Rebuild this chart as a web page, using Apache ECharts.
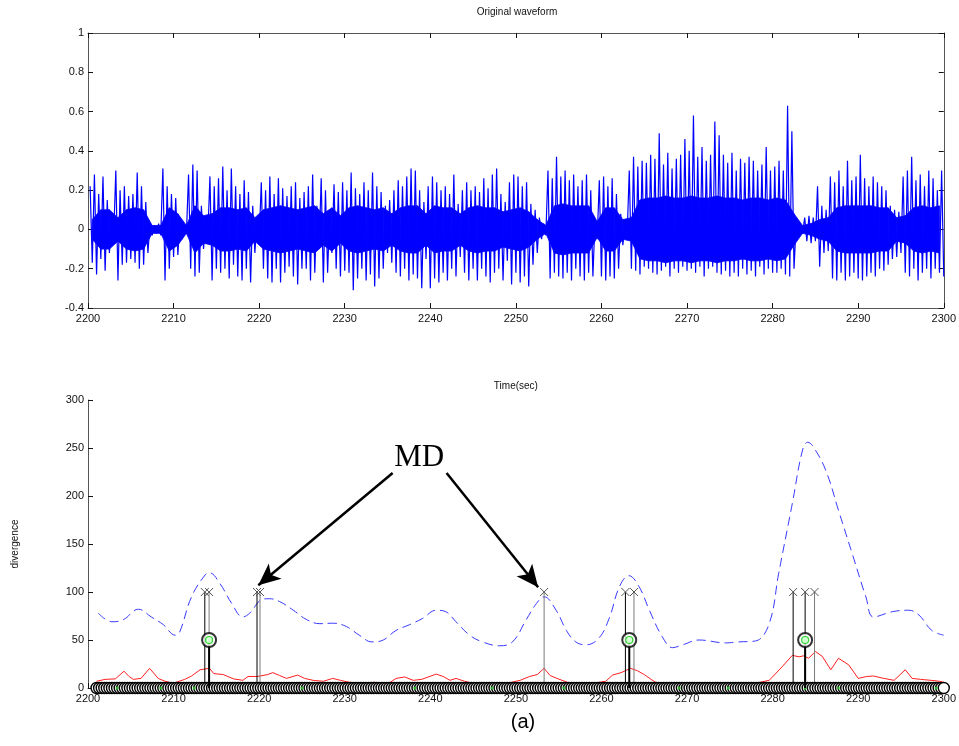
<!DOCTYPE html>
<html><head><meta charset="utf-8">
<script src="https://cdn.jsdelivr.net/npm/echarts@6/dist/echarts.min.js"></script>
<style>html,body{margin:0;padding:0;background:#fff}#c{width:959px;height:746px}</style>
</head><body><div id="c"></div>
<script>
// ---- Waveform envelope: max / min per half-second window, windows ending 2200.5 ... 2300 ----
const waveStart = 2200.5, waveStep = 0.5;
const wavePos = [
0.22,0.28,0.18,0.27,0.15,0.04,0.30,0.20,0.22,0.17,
0.18,0.29,0.22,0.14,0.03,0.02,0.03,0.31,0.22,0.18,
0.16,0.05,0.02,0.28,0.33,0.30,0.12,0.03,0.27,0.22,
0.26,0.32,0.20,0.31,0.22,0.18,0.25,0.19,0.12,0.06,
0.24,0.20,0.27,0.18,0.26,0.21,0.17,0.22,0.24,0.16,
0.19,0.22,0.28,0.12,0.26,0.20,0.10,0.23,0.19,0.24,
0.20,0.29,0.21,0.18,0.24,0.20,0.29,0.22,0.19,0.12,
0.15,0.20,0.25,0.22,0.27,0.31,0.30,0.20,0.14,0.22,
0.27,0.24,0.20,0.22,0.18,0.28,0.13,0.20,0.24,0.20,
0.22,0.19,0.26,0.21,0.28,0.31,0.18,0.14,0.24,0.28,
0.27,0.22,0.24,0.13,0.10,0.06,0.03,0.30,0.26,0.37,
0.27,0.30,0.25,0.28,0.22,0.25,0.28,0.20,0.05,0.25,
0.27,0.22,0.26,0.18,0.08,0.03,0.30,0.37,0.32,0.35,
0.34,0.38,0.36,0.49,0.33,0.39,0.31,0.36,0.38,0.46,
0.40,0.58,0.37,0.42,0.35,0.38,0.55,0.48,0.38,0.34,
0.39,0.30,0.36,0.34,0.37,0.35,0.30,0.33,0.42,0.30,
0.32,0.35,0.30,0.63,0.50,0.02,0.02,0.06,0.07,0.06,
0.22,0.12,0.10,0.27,0.24,0.30,0.22,0.35,0.25,0.27,
0.38,0.26,0.22,0.27,0.24,0.22,0.20,0.12,0.10,0.09,
0.27,0.30,0.37,0.25,0.28,0.22,0.30,0.26,0.20,0.30];
const waveNeg = [
-0.17,-0.23,-0.15,-0.21,-0.12,-0.04,-0.26,-0.18,-0.17,-0.15,
-0.17,-0.20,-0.18,-0.12,-0.03,-0.02,-0.03,-0.26,-0.20,-0.14,
-0.13,-0.05,-0.02,-0.20,-0.24,-0.22,-0.10,-0.03,-0.26,-0.20,
-0.22,-0.20,-0.25,-0.18,-0.24,-0.26,-0.20,-0.27,-0.12,-0.05,
-0.20,-0.25,-0.27,-0.20,-0.27,-0.22,-0.19,-0.24,-0.28,-0.20,
-0.20,-0.26,-0.22,-0.10,-0.27,-0.22,-0.12,-0.20,-0.24,-0.21,
-0.22,-0.31,-0.25,-0.20,-0.26,-0.23,-0.29,-0.25,-0.20,-0.12,
-0.17,-0.22,-0.24,-0.20,-0.26,-0.23,-0.25,-0.30,-0.15,-0.30,
-0.25,-0.27,-0.22,-0.26,-0.20,-0.24,-0.14,-0.22,-0.26,-0.20,
-0.26,-0.20,-0.24,-0.27,-0.22,-0.20,-0.26,-0.16,-0.28,-0.22,
-0.27,-0.24,-0.29,-0.18,-0.12,-0.05,-0.03,-0.25,-0.22,-0.24,
-0.25,-0.22,-0.26,-0.20,-0.24,-0.26,-0.22,-0.24,-0.05,-0.24,
-0.26,-0.24,-0.25,-0.20,-0.08,-0.03,-0.20,-0.21,-0.23,-0.19,
-0.20,-0.22,-0.23,-0.21,-0.19,-0.24,-0.20,-0.22,-0.19,-0.21,
-0.20,-0.22,-0.19,-0.24,-0.20,-0.19,-0.22,-0.23,-0.21,-0.24,
-0.22,-0.24,-0.20,-0.23,-0.21,-0.24,-0.19,-0.23,-0.20,-0.22,
-0.22,-0.20,-0.23,-0.24,-0.20,-0.02,-0.02,-0.06,-0.07,-0.06,
-0.19,-0.12,-0.11,-0.25,-0.26,-0.22,-0.26,-0.24,-0.22,-0.25,
-0.26,-0.24,-0.22,-0.24,-0.20,-0.21,-0.18,-0.15,-0.14,-0.12,
-0.22,-0.24,-0.20,-0.26,-0.22,-0.20,-0.25,-0.20,-0.22,-0.24];
// dense solid core amplitude of the waveform, one value per second (centres 2200.5 ... 2299.5)
const coreStart = 2200.5, coreStep = 1;
const coreAmp = [
0.05,0.10,0.10,0.06,0.10,0.11,0.10,0.02,0.02,0.11,
0.08,0.02,0.12,0.07,0.08,0.11,0.11,0.10,0.11,0.06,
0.10,0.11,0.12,0.11,0.10,0.11,0.12,0.08,0.11,0.07,
0.11,0.12,0.11,0.10,0.11,0.08,0.11,0.12,0.12,0.08,
0.12,0.11,0.11,0.08,0.11,0.12,0.11,0.11,0.09,0.10,
0.11,0.09,0.05,0.02,0.12,0.13,0.12,0.12,0.12,0.04,
0.11,0.11,0.05,0.06,0.15,0.16,0.16,0.17,0.16,0.16,
0.17,0.16,0.16,0.17,0.16,0.16,0.15,0.16,0.16,0.15,
0.16,0.15,0.08,0.02,0.03,0.05,0.06,0.11,0.12,0.12,
0.12,0.12,0.11,0.11,0.06,0.07,0.11,0.12,0.11,0.12];

// ---- Divergence curves: [time, value] ----
const blueDiv = [[2201.2,78],[2202.8,69],[2204.1,71],[2205.9,82],[2207.4,74],[2208.8,66],[2210.2,55],[2210.7,58],[2212.1,95],[2213.7,118],[2214.2,120],[2215.4,109],[2216.8,88],[2218.1,74],[2218.9,78],[2220.3,92],[2221.2,93],[2222.4,90],[2224,81],[2225.5,71.5],[2227.1,67],[2228.6,67.5],[2230.2,64],[2231.7,55],[2233.2,48],[2234.5,50],[2236,60],[2237.6,66],[2239.1,72.5],[2240.7,81],[2241.8,79.5],[2243,69],[2244.6,55],[2246.1,48],[2248.1,44],[2249.6,48],[2251.2,71],[2252.4,88],[2253.3,95],[2254.7,81],[2255.9,60],[2257,48],[2258.2,45],[2259.7,52],[2260.9,72.5],[2262.1,105.5],[2263.2,117],[2264.4,105.5],[2265.6,81],[2267.1,53.5],[2268.3,42],[2269.5,45],[2271.4,50],[2274.5,47],[2276,48],[2278,49],[2279.6,67],[2280.7,119],[2282.3,192],[2283.5,248],[2284.1,256],[2284.7,252],[2286.2,227],[2287.7,185],[2289.3,140],[2290.9,95],[2291.8,74],[2294,79.5],[2295.9,81],[2297.1,76],[2298.6,60],[2300,55]];
const redDiv = [[2201,7],[2202,9],[2203.2,9.5],[2204.2,17.5],[2204.8,12],[2205.3,9],[2206.2,10],[2207.2,20.5],[2208.2,10],[2209,7],[2210,5],[2211.3,9],[2212.1,12.5],[2213.1,19],[2214.2,20.5],[2214.7,15],[2215.8,14],[2217,9.5],[2218.1,8],[2218.7,12],[2219.8,12],[2221,14],[2221.6,16],[2222.4,13],[2223.2,10],[2224.5,13.5],[2225.3,10],[2226.3,8],[2227.5,7],[2228.6,10],[2229.5,8],[2230.5,6],[2232,5],[2233.5,6],[2235,4],[2236,10],[2237,11.5],[2238,8],[2239,9],[2240.7,14.5],[2241.5,12],[2242.3,8],[2243,10],[2244,7],[2245,5],[2247,4],[2249,5],[2250.5,8],[2251.6,12],[2252.5,14],[2253.3,20.5],[2254,13],[2254.8,10],[2256,6],[2257.5,4],[2259,5],[2260.5,7],[2261.3,13.5],[2262.3,16],[2263.4,20.5],[2264.2,18],[2265,14],[2265.8,9],[2266.5,5],[2268,4],[2270,5],[2272,4],[2274,5],[2276,4],[2278,5],[2279.6,8],[2281.1,22],[2282.3,34],[2283.1,32.5],[2283.6,33.5],[2284.2,31],[2285,38],[2285.8,33],[2286.8,19],[2287.7,31],[2288.9,24],[2290,10],[2291,12],[2291.8,12.5],[2293,10],[2294.2,8],[2295.5,19],[2296.3,10],[2297.3,9],[2298.5,8],[2299.5,7],[2300,6]];

// ---- Detection markers ----
const stemTimes  = [2213.65, 2214.15, 2219.75, 2220.1, 2253.3, 2262.8, 2263.8, 2282.4, 2283.8, 2284.9];
const stemValue  = 100;
const stemDark   = [1, 0, 1, 0, 0, 1, 0, 1, 1, 0];
const mdTimes    = [2214.15, 2263.25, 2283.8];
const mdValue    = 50;
const frameTimes = [
2201,2201.3,2201.6,2201.9,2202.2,2202.5,2202.8,2203.1,2203.4,2203.7,
2204,2204.3,2204.6,2204.9,2205.2,2205.5,2205.8,2206.1,2206.4,2206.7,
2207,2207.3,2207.6,2207.9,2208.2,2208.5,2208.8,2209.1,2209.4,2209.7,
2210,2210.3,2210.6,2210.9,2211.2,2211.5,2211.8,2212.1,2212.4,2212.7,
2213,2213.3,2213.6,2213.9,2214.2,2214.5,2214.8,2215.1,2215.4,2215.7,
2216,2216.3,2216.6,2216.9,2217.2,2217.5,2217.8,2218.1,2218.4,2218.7,
2219,2219.3,2219.6,2219.9,2220.2,2220.5,2220.8,2221.1,2221.4,2221.7,
2222,2222.3,2222.6,2222.9,2223.2,2223.5,2223.8,2224.1,2224.4,2224.7,
2225,2225.3,2225.6,2225.9,2226.2,2226.5,2226.8,2227.1,2227.4,2227.7,
2228,2228.3,2228.6,2228.9,2229.2,2229.5,2229.8,2230.1,2230.4,2230.7,
2231,2231.3,2231.6,2231.9,2232.2,2232.5,2232.8,2233.1,2233.4,2233.7,
2234,2234.3,2234.6,2234.9,2235.2,2235.5,2235.8,2236.1,2236.4,2236.7,
2237,2237.3,2237.6,2237.9,2238.2,2238.5,2238.8,2239.1,2239.4,2239.7,
2240,2240.3,2240.6,2240.9,2241.2,2241.5,2241.8,2242.1,2242.4,2242.7,
2243,2243.3,2243.6,2243.9,2244.2,2244.5,2244.8,2245.1,2245.4,2245.7,
2246,2246.3,2246.6,2246.9,2247.2,2247.5,2247.8,2248.1,2248.4,2248.7,
2249,2249.3,2249.6,2249.9,2250.2,2250.5,2250.8,2251.1,2251.4,2251.7,
2252,2252.3,2252.6,2252.9,2253.2,2253.5,2253.8,2254.1,2254.4,2254.7,
2255,2255.3,2255.6,2255.9,2256.2,2256.5,2256.8,2257.1,2257.4,2257.7,
2258,2258.3,2258.6,2258.9,2259.2,2259.5,2259.8,2260.1,2260.4,2260.7,
2261,2261.3,2261.6,2261.9,2262.2,2262.5,2262.8,2263.1,2263.4,2263.7,
2264,2264.3,2264.6,2264.9,2265.2,2265.5,2265.8,2266.1,2266.4,2266.7,
2267,2267.3,2267.6,2267.9,2268.2,2268.5,2268.8,2269.1,2269.4,2269.7,
2270,2270.3,2270.6,2270.9,2271.2,2271.5,2271.8,2272.1,2272.4,2272.7,
2273,2273.3,2273.6,2273.9,2274.2,2274.5,2274.8,2275.1,2275.4,2275.7,
2276,2276.3,2276.6,2276.9,2277.2,2277.5,2277.8,2278.1,2278.4,2278.7,
2279,2279.3,2279.6,2279.9,2280.2,2280.5,2280.8,2281.1,2281.4,2281.7,
2282,2282.3,2282.6,2282.9,2283.2,2283.5,2283.8,2284.1,2284.4,2284.7,
2285,2285.3,2285.6,2285.9,2286.2,2286.5,2286.8,2287.1,2287.4,2287.7,
2288,2288.3,2288.6,2288.9,2289.2,2289.5,2289.8,2290.1,2290.4,2290.7,
2291,2291.3,2291.6,2291.9,2292.2,2292.5,2292.8,2293.1,2293.4,2293.7,
2294,2294.3,2294.6,2294.9,2295.2,2295.5,2295.8,2296.1,2296.4,2296.7,
2297,2297.3,2297.6,2297.9,2298.2,2298.5,2298.8,2299.1,2299.4,2299.7,
2300];
const greenFrames = [2203.4, 2208.5, 2212.4, 2225, 2238.2, 2247.2, 2255.6, 2269.1, 2274.8, 2283.8, 2287.7, 2299.1];

// ---- Axes / text ----
const xTicks = {min: 2200, max: 2300, interval: 10};
const topY = {min: -0.4, max: 1, interval: 0.2};
const botY = {min: 0, max: 300, interval: 50};
const titleText = 'Original waveform';
const xName = 'Time(sec)';
const yName2 = 'divergence';
const annoText = 'MD';
const captionText = '(a)';
const arrowFrom = [[2235.6, 224], [2241.9, 224]];
const arrowTo = [[2219.9, 107], [2252.6, 105]];
const mdAt = [2238.7, 240];

// ---- build ----
const wavePts = [];
wavePos.forEach((p, i) => {
  const t = waveStart + waveStep * i;
  wavePts.push([t - 0.25, p]);
  wavePts.push([t, waveNeg[i]]);
});
const coreSegs = [];
for (let i = 0; i + 1 < coreAmp.length; i++) {
  coreSegs.push([coreStart + coreStep * i, coreAmp[i], coreStart + coreStep * (i + 1), coreAmp[i + 1]]);
}

const fontTick = 'Liberation Sans Narrow, Arial Narrow, Liberation Sans, Arial, sans-serif';
const axColor = '#555';
function xAx(grid, pos, labels) {
  return {type: 'value', gridIndex: grid, position: pos, ...xTicks,
    axisLine: {show: true, onZero: false, lineStyle: {color: axColor, width: 1}},
    axisTick: {show: true, inside: true, length: 5, lineStyle: {color: '#111'}},
    axisLabel: {show: labels, fontSize: 11, color: '#111', margin: 5, fontFamily: fontTick, formatter: v => String(v)},
    splitLine: {show: false}};
}
function yAx(grid, pos, cfg, labels, fmt) {
  return {type: 'value', gridIndex: grid, position: pos, ...cfg,
    axisLine: {show: true, onZero: false, lineStyle: {color: axColor, width: 1}},
    axisTick: {show: true, inside: true, length: 5, lineStyle: {color: '#111'}},
    axisLabel: {show: labels, fontSize: 11, color: '#111', margin: 4, fontFamily: fontTick, formatter: fmt},
    splitLine: {show: false}};
}

const chart = echarts.init(document.getElementById('c'), null, {renderer: 'canvas'});
const xTop = xAx(0, 'bottom', true);
xTop.name = xName; xTop.nameLocation = 'middle'; xTop.nameGap = 73;
xTop.nameTextStyle = {fontSize: 10, color: '#111', fontFamily: 'Liberation Sans, Arial, sans-serif'};
const yBot = yAx(1, 'left', botY, true, v => String(v));
yBot.name = yName2; yBot.nameLocation = 'middle'; yBot.nameGap = 68; yBot.nameRotate = 90;
yBot.nameTextStyle = {fontSize: 10, color: '#111', fontFamily: 'Liberation Sans, Arial, sans-serif'};

chart.setOption({
  animation: false,
  backgroundColor: '#fff',
  grid: [
    {left: 88, top: 33, width: 857, height: 275},
    {left: 88, top: 400, width: 857, height: 288}
  ],
  xAxis: [xTop, xAx(0, 'top', false), xAx(1, 'bottom', true)],
  yAxis: [
    yAx(0, 'left', topY, true, v => String(parseFloat(v.toFixed(1)))),
    yAx(0, 'right', topY, false),
    yBot
  ],
  graphic: [
    {type: 'text', x: 517, y: 12, style: {text: titleText, textAlign: 'center', textVerticalAlign: 'middle', font: '10px Liberation Sans, Arial, sans-serif', fill: '#111'}},
    {type: 'text', x: 523, y: 722, style: {text: captionText, textAlign: 'center', textVerticalAlign: 'middle', font: '20px Liberation Sans, Arial, sans-serif', fill: '#000'}}
  ],
  series: [
    {type: 'custom', xAxisIndex: 0, yAxisIndex: 0, z: 1, data: coreSegs,
      renderItem: (params, api) => {
        const a = api.coord([api.value(0), api.value(1)]);
        const b = api.coord([api.value(2), api.value(3)]);
        const c = api.coord([api.value(2), -api.value(3)]);
        const d = api.coord([api.value(0), -api.value(1)]);
        return {type: 'polygon', shape: {points: [a, b, c, d]},
          style: {fill: '#0000ff', stroke: '#0000ff', lineWidth: 0.8}};
      }},
    {type: 'line', xAxisIndex: 0, yAxisIndex: 0, data: wavePts, showSymbol: false, symbol: 'none',
      lineStyle: {color: '#0000ff', width: 1.2}, sampling: null, z: 2},
    {type: 'line', xAxisIndex: 2, yAxisIndex: 2, data: blueDiv, smooth: 0.4, showSymbol: false, symbol: 'none',
      lineStyle: {color: '#3a3aff', width: 1, type: [9, 5]}, z: 2},
    {type: 'line', xAxisIndex: 2, yAxisIndex: 2, data: redDiv, smooth: false, showSymbol: false, symbol: 'none',
      lineStyle: {color: '#ff2020', width: 1}, z: 3},
    {type: 'custom', xAxisIndex: 2, yAxisIndex: 2, z: 4,
      data: stemTimes.map((t, i) => [t, stemValue, stemDark[i]]),
      renderItem: (params, api) => {
        const p0 = api.coord([api.value(0), 0]);
        const p1 = api.coord([api.value(0), api.value(1)]);
        const c = api.value(2) ? '#000' : '#7a7a7a';
        const s = 4;
        return {type: 'group', children: [
          {type: 'line', shape: {x1: p0[0], y1: p0[1], x2: p1[0], y2: p1[1]}, style: {stroke: c, lineWidth: 1}},
          {type: 'line', shape: {x1: p1[0]-s, y1: p1[1]-s, x2: p1[0]+s, y2: p1[1]+s}, style: {stroke: '#555', lineWidth: 1}},
          {type: 'line', shape: {x1: p1[0]-s, y1: p1[1]+s, x2: p1[0]+s, y2: p1[1]-s}, style: {stroke: '#555', lineWidth: 1}}
        ]};
      }},
    {type: 'scatter', xAxisIndex: 2, yAxisIndex: 2, z: 5, symbol: 'circle', symbolSize: 11,
      data: frameTimes.map(t => [t, 0]),
      itemStyle: {color: '#fff', borderColor: '#000', borderWidth: 1.4, opacity: 1}},
    {type: 'scatter', xAxisIndex: 2, yAxisIndex: 2, z: 6, symbol: 'circle', symbolSize: 3,
      data: greenFrames.map(t => [t, 0]), itemStyle: {color: '#22cc22'}},
    {type: 'custom', xAxisIndex: 2, yAxisIndex: 2, z: 7,
      data: mdTimes.map(t => [t, mdValue]),
      renderItem: (params, api) => {
        const p0 = api.coord([api.value(0), 0]);
        const p1 = api.coord([api.value(0), api.value(1)]);
        return {type: 'line', shape: {x1: p0[0], y1: p0[1], x2: p1[0], y2: p1[1]}, style: {stroke: '#000', lineWidth: 2}};
      }},
    {type: 'scatter', xAxisIndex: 2, yAxisIndex: 2, z: 8, symbol: 'circle', symbolSize: 14,
      data: mdTimes.map(t => [t, mdValue]),
      itemStyle: {color: '#fff', borderColor: '#000', borderWidth: 2}},
    {type: 'scatter', xAxisIndex: 2, yAxisIndex: 2, z: 9, symbol: 'circle', symbolSize: 7,
      data: mdTimes.map(t => [t, mdValue]),
      itemStyle: {color: '#cfffcf', borderColor: '#00cc00', borderWidth: 1.2}},
    {type: 'scatter', xAxisIndex: 2, yAxisIndex: 2, z: 10, data: [], symbolSize: 0,
      markLine: {silent: true, symbol: ['none', 'arrow'], symbolSize: [15, 22], animation: false,
        lineStyle: {color: '#000', width: 2.5, type: 'solid'}, label: {show: false},
        data: arrowFrom.map((a, i) => [{coord: a}, {coord: arrowTo[i]}])},
      markPoint: {silent: true, symbol: 'circle', symbolSize: 1, itemStyle: {color: 'rgba(0,0,0,0)'},
        label: {show: true, position: 'inside', formatter: annoText, fontSize: 31, color: '#000',
          fontFamily: 'Liberation Serif, Times New Roman, serif'},
        data: [{coord: mdAt}]}}
  ]
});
</script></body></html>
